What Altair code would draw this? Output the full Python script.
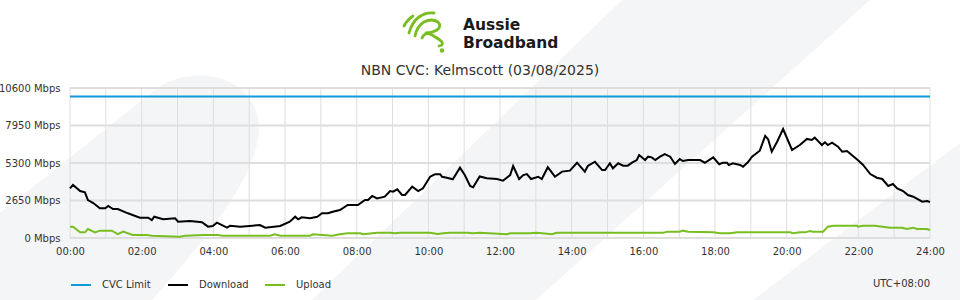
import urllib.parse
import altair as alt
import pandas as pd

# ---------------- data ----------------
dl_times = ["00:00","00:05","00:17","00:25","00:30","00:39","00:50","00:59","01:04","01:12",
            "01:20","01:37","01:57","02:11","02:17","02:21","02:36","02:56","03:01","03:21",
            "03:41","03:51","03:59","04:06","04:23","04:28","04:45","05:06","05:18","05:27",
            "05:52","06:08","06:17","06:22","06:28","06:42","06:54","07:02","07:12","07:20",
            "07:32","07:45","08:02","08:14","08:19","08:26","08:34","08:47","08:56","09:01",
            "09:08","09:16","09:21","09:33","09:43","09:51","10:03","10:11","10:20","10:23",
            "10:31","10:41","10:53","11:01","11:10","11:15","11:26","11:38","11:55","12:05",
            "12:17","12:22","12:32","12:39","12:45","12:52","13:04","13:10","13:20","13:32",
            "13:44","13:57","14:09","14:22","14:27","14:39","14:51","14:56","15:04","15:09",
            "15:18","15:26","15:34","15:41","15:49","15:53","16:03","16:08","16:14","16:20",
            "16:28","16:36","16:45","16:53","17:01","17:06","17:15","17:23","17:35","17:43",
            "17:57","18:07","18:13","18:20","18:23","18:30","18:42","18:47","18:55","19:02",
            "19:15","19:24","19:29","19:35","19:44","19:54","20:09","20:22","20:34","20:42",
            "20:47","20:59","21:04","21:09","21:16","21:26","21:33","21:41","21:49","21:59",
            "22:08","22:20","22:31","22:40","22:50","22:58","23:05","23:15","23:23","23:32",
            "23:47","23:55","24:00"]
dl_mbps = [3510,3745,3320,3230,2685,2470,2100,2100,2260,2050,
           2050,1745,1435,1435,1270,1505,1320,1390,1150,1200,
           1110,800,850,1080,730,870,800,870,920,730,
           850,1150,1505,1320,1460,1390,1505,1745,1745,1860,
           1980,2330,2330,2685,2685,2970,2800,2920,3320,3270,
           3440,3040,3040,3625,3320,3510,4330,4500,4500,4330,
           4260,4150,4970,4450,3675,3580,4350,4220,4170,4050,
           4450,5090,4170,4450,4520,4170,4330,4170,5000,4330,
           4690,4760,5320,4690,5090,5390,4800,4800,5280,4925,
           5280,5110,5110,5320,5510,5865,5510,5745,5700,5510,
           5745,5935,5745,5230,5580,5440,5510,5510,5510,5320,
           5700,5210,5320,5320,5160,5280,5160,5040,5350,5745,
           6170,7210,6975,6100,6805,7700,6220,6570,7000,6925,
           7090,6570,6760,6570,6735,6450,6100,6150,5865,5510,
           5160,4520,4260,4170,3675,3815,3510,3320,3040,2920,
           2565,2615,2545]

ul_times = ["00:00","00:05","00:17","00:25","00:30","00:42","00:50","01:10","01:20","01:29",
            "01:45","02:09","02:17","03:04","03:13","03:43","04:08","04:15","05:35","05:43",
            "05:52","06:42","06:47","07:19","07:32","07:45","08:06","08:11","08:34","08:56",
            "09:04","09:13","10:03","10:15","10:25","10:36","11:05","11:15","11:26","12:12",
            "12:17","12:50","13:02","13:27","13:35","16:33","16:41","17:01","17:06","17:15",
            "17:57","18:08","18:25","18:37","20:06","20:11","20:22","20:31","20:39","20:44",
            "21:01","21:09","21:18","21:58","21:59","22:08","22:28","22:53","23:13","23:21",
            "23:32","23:38","23:55","24:00"]
ul_mbps = [800,800,400,400,635,400,520,520,280,450,
           210,210,165,95,165,210,210,165,165,260,
           165,165,260,165,260,330,330,260,375,375,
           330,375,375,280,330,375,375,330,375,260,
           330,330,375,260,375,375,450,450,520,450,
           400,330,330,400,400,330,400,400,495,450,
           450,800,870,870,800,870,870,730,730,635,
           730,635,635,565]

cvc_times = ["00:00", "24:00"]
cvc_mbps = [10000, 10000]

series_names = ["CVC Limit", "Download", "Upload"]
series_colors = ["#0f9bd7", "#000000", "#78be21"]

y_ticks = [0, 2650, 5300, 7950, 10600]
x_hours = list(range(25))

title_text = ["NBN CVC: Kelmscott (03/08/2025)"]
brand_text = ["Aussie\nBroadband"]
tz_text = ["UTC+08:00"]


def to_hours(t):
    h, m = t.split(":")
    return int(h) + int(m) / 60.0


rows = []
for name, times, vals in [("CVC Limit", cvc_times, cvc_mbps),
                          ("Download", dl_times, dl_mbps),
                          ("Upload", ul_times, ul_mbps)]:
    for t, v in zip(times, vals):
        rows.append({"hour": to_hours(t), "mbps": v, "series": name})
df = pd.DataFrame(rows)

# ---------------- decorative svg (background + logo icon) ----------------
bg_svg = (
    "<svg xmlns='http://www.w3.org/2000/svg' width='960' height='300' viewBox='0 0 960 300'>"
    "<g fill='#f4f5f7'>"
    "<path d='M0,213 L155,90 C180,70 235,66 255,108 C270,145 242,200 152,300 L0,300 Z'/>"
    "<path d='M622,0 L870,0 L536,300 L312,300 Z'/>"
    "<path d='M960,143 L960,300 L753,300 Z'/>"
    "</g></svg>"
)
icon_svg = (
    "<svg xmlns='http://www.w3.org/2000/svg' width='46' height='44' viewBox='0 0 46 44'>"
    "<g fill='none' stroke='#78be21' stroke-width='2.8' stroke-linecap='round' stroke-linejoin='round'>"
    "<path d='M3,17 Q6,11 12,7'/>"
    "<path d='M8,24 Q11,13 18,8 Q25,3 33,4'/>"
    "<path d='M14,27 Q16,17 23,13 Q31,9 37,13 Q41,17 36,21 Q31,24 25,24'/>"
    "<path d='M21,29 Q24,22 31,26 Q38,30 41,33 Q43,36 38,37'/>"
    "</g><circle cx='41' cy='41.5' r='2.2' fill='#78be21'/></svg>"
)


def svg_uri(s):
    return "data:image/svg+xml;charset=utf-8," + urllib.parse.quote(s)


FONT = "DejaVu Sans"
TXT = "#333333"
GRID = "#dedede"

xscale = alt.Scale(domain=[0, 24], nice=False, zero=False)
yscale = alt.Scale(domain=[0, 10600], nice=False)

xaxis = alt.Axis(
    values=x_hours,
    labelExpr="datum.value % 2 == 0 ? (datum.value < 10 ? '0' : '') + datum.value + ':00' : ''",
    grid=False, domain=False, ticks=False, title=None, zindex=1,
    labelOverlap=False, labelFlush=False, labelBound=False,
    labelFont=FONT, labelFontSize=10, labelColor=TXT, labelPadding=8,
)
yaxis = alt.Axis(
    values=y_ticks,
    labelExpr="datum.value + ' Mbps'",
    grid=False, domain=False, ticks=False, title=None, zindex=1,
    labelOverlap=False, labelFlush=False, labelBound=False,
    labelFont=FONT, labelFontSize=10, labelColor=TXT, labelPadding=10,
)

one = pd.DataFrame({"k": [0]})

background = alt.Chart(one).mark_image(
    width=960, height=300, align="left", baseline="top", aspect=False
).encode(x=alt.value(-70), y=alt.value(-88), url=alt.value(svg_uri(bg_svg)))

hgrid = alt.Chart(pd.DataFrame({"v": y_ticks})).mark_rule(
    color=GRID, strokeWidth=2
).encode(y=alt.Y("v:Q", scale=yscale, axis=yaxis))

vgrid = alt.Chart(pd.DataFrame({"h": x_hours})).mark_rule(
    color=GRID, strokeWidth=1
).encode(x=alt.X("h:Q", scale=xscale, axis=xaxis))

lines = alt.Chart(df).mark_line(strokeWidth=2).encode(
    x=alt.X("hour:Q", scale=xscale, axis=xaxis),
    y=alt.Y("mbps:Q", scale=yscale, axis=yaxis),
    color=alt.Color(
        "series:N",
        scale=alt.Scale(domain=series_names, range=series_colors),
        sort=series_names,
        legend=alt.Legend(
            title=None, orient="none", direction="horizontal",
            legendX=0, legendY=186, columns=3, gridAlign="all",
            columnPadding=12, labelOffset=10,
            symbolType="stroke", symbolSize=400, symbolStrokeWidth=2,
            labelFont=FONT, labelFontSize=10, labelColor=TXT,
        ),
    ),
)

icon = alt.Chart(one).mark_image(
    width=46, height=44, align="left", baseline="top", aspect=False
).encode(x=alt.value(331), y=alt.value(-79), url=alt.value(svg_uri(icon_svg)))

brand = alt.Chart(pd.DataFrame({"t": brand_text})).mark_text(
    font="DejaVu Sans", fontWeight="bold", fontSize=15.5, color="#1a1a1a",
    align="left", baseline="alphabetic", lineBreak="\n", lineHeight=18.5
).encode(text="t:N", x=alt.value(393), y=alt.value(-58.5))

title = alt.Chart(pd.DataFrame({"t": title_text})).mark_text(
    font=FONT, fontSize=14, color=TXT, align="center", baseline="alphabetic"
).encode(text="t:N", x=alt.value(410), y=alt.value(-13))

tz = alt.Chart(pd.DataFrame({"t": tz_text})).mark_text(
    font=FONT, fontSize=10, color=TXT, align="right", baseline="middle"
).encode(text="t:N", x=alt.value(860), y=alt.value(196))

chart = alt.layer(
    background, hgrid, vgrid, lines, icon, brand, title, tz
).properties(
    width=860, height=150,
    autosize=alt.AutoSizeParams(type="none"),
    padding={"left": 70, "top": 88, "right": 30, "bottom": 62},
    background="#ffffff",
).configure_view(stroke=None)

chart.save("out.html", embed_options={"renderer": "svg", "actions": False})
